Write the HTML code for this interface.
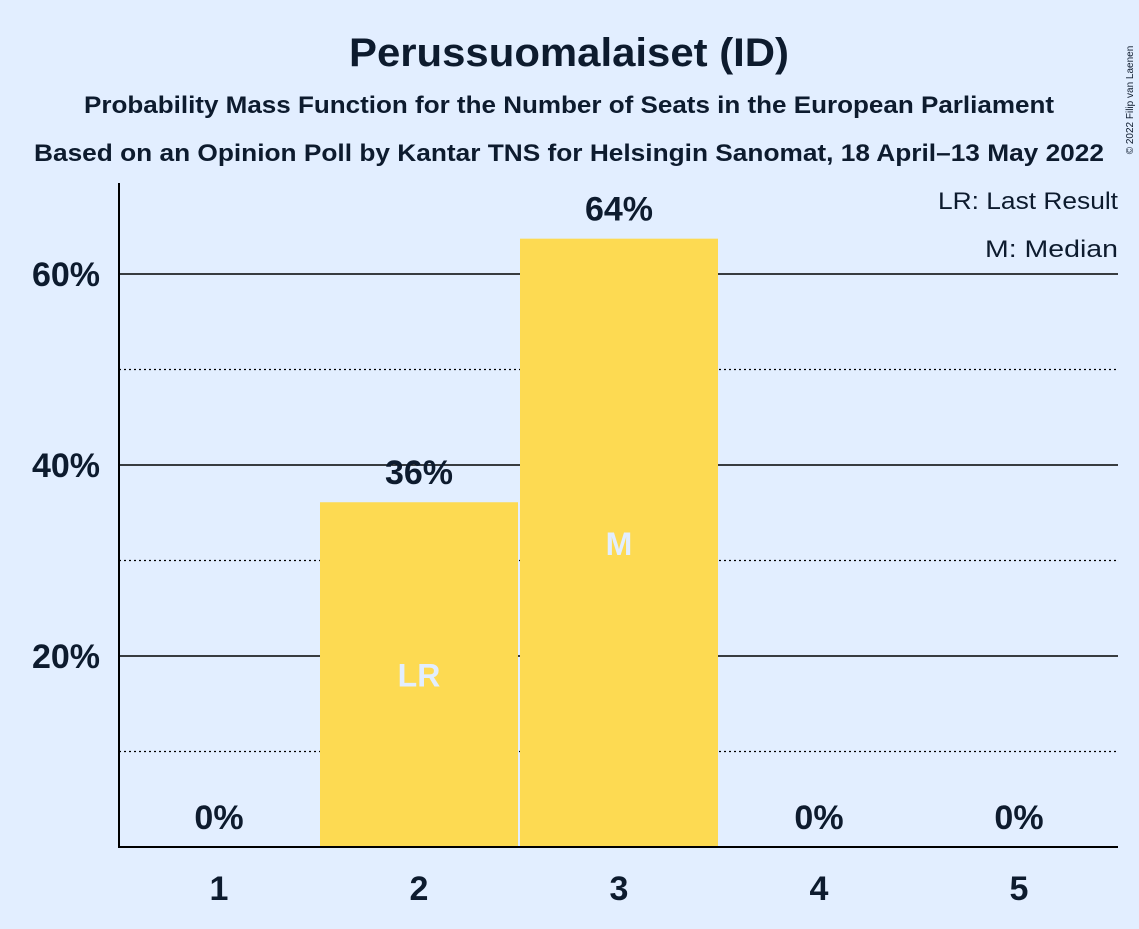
<!DOCTYPE html>
<html><head><meta charset="utf-8"><style>
body{margin:0;background:#e2eeff;}
svg text{font-family:"Liberation Sans",sans-serif;font-weight:bold;fill:#0d1b2e;}
</style></head><body>
<svg width="1139" height="924" xmlns="http://www.w3.org/2000/svg">
<rect width="1139" height="924" fill="#e2eeff"/>
<text x="569" y="66" font-size="40" text-anchor="middle" textLength="440" lengthAdjust="spacingAndGlyphs">Perussuomalaiset (ID)</text>
<text x="569" y="113" font-size="24" text-anchor="middle" textLength="970" lengthAdjust="spacingAndGlyphs">Probability Mass Function for the Number of Seats in the European Parliament</text>
<text x="569" y="161" font-size="24" text-anchor="middle" textLength="1070" lengthAdjust="spacingAndGlyphs">Based on an Opinion Poll by Kantar TNS for Helsingin Sanomat, 18 April–13 May 2022</text>
<text x="1133" y="100" font-size="10" text-anchor="middle" transform="rotate(-90 1133 100)" style="font-weight:normal">© 2022 Filip van Laenen</text>
<g id="grid"></g>
<g id="bars"></g>
<text x="1118" y="209" font-size="24" text-anchor="end" textLength="180" lengthAdjust="spacingAndGlyphs" style="font-weight:normal">LR: Last Result</text>
<text x="1118" y="257" font-size="24" text-anchor="end" textLength="133" lengthAdjust="spacingAndGlyphs" style="font-weight:normal">M: Median</text>
<line x1="119" y1="183" x2="119" y2="848" stroke="#000" stroke-width="2"/>
<line x1="118" y1="847" x2="1118" y2="847" stroke="#000" stroke-width="2"/>
</svg>
<script>
const categories=[1,2,3,4,5];
const values=[0,36.1,63.7,0,0];
const valueLabels=["0%","36%","64%","0%","0%"];
const barMarks=["","LR","M","",""];
const yTicks=[20,40,60];
const yMinor=[10,30,50];
const NS="http://www.w3.org/2000/svg";
const y=v=>847-v*9.55;
const x=c=>219+(c-1)*200;
const grid=document.getElementById('grid'),bars=document.getElementById('bars');
function mk(tag,attrs,parent){const e=document.createElementNS(NS,tag);for(const k in attrs)e.setAttribute(k,attrs[k]);parent.appendChild(e);return e;}
yMinor.forEach(t=>{const l=mk('line',{x1:119,x2:1118,y1:y(t),y2:y(t),stroke:'#000','stroke-width':1.2,'stroke-dasharray':'2,3'},grid);

});
yTicks.forEach(t=>{const l=mk('line',{x1:119,x2:1118,y1:y(t),y2:y(t),stroke:'#000','stroke-width':1.5},grid);


const tx=mk('text',{x:100,y:y(t)+12,'font-size':34,'text-anchor':'end'},grid);tx.textContent=t+'%';

});
categories.forEach((c,i)=>{
 if(values[i]>0){const r=mk('rect',{x:x(c)-99,y:y(values[i]),width:198,height:847-y(values[i]),fill:'#fdda52'},bars);
 
 }
 const vl=mk('text',{x:x(c),y:y(values[i])-18,'font-size':34,'text-anchor':'middle'},bars);vl.textContent=valueLabels[i];
 
 
 if(barMarks[i]){const m=mk('text',{x:x(c),y:(y(values[i])+847)/2+12,'font-size':32,'text-anchor':'middle',style:'fill:#e2eeff'},bars);m.textContent=barMarks[i];
 
 }
 const xl=mk('text',{x:x(c),y:900,'font-size':34,'text-anchor':'middle'},bars);xl.textContent=c;
 
 
});
</script>
</body></html>
